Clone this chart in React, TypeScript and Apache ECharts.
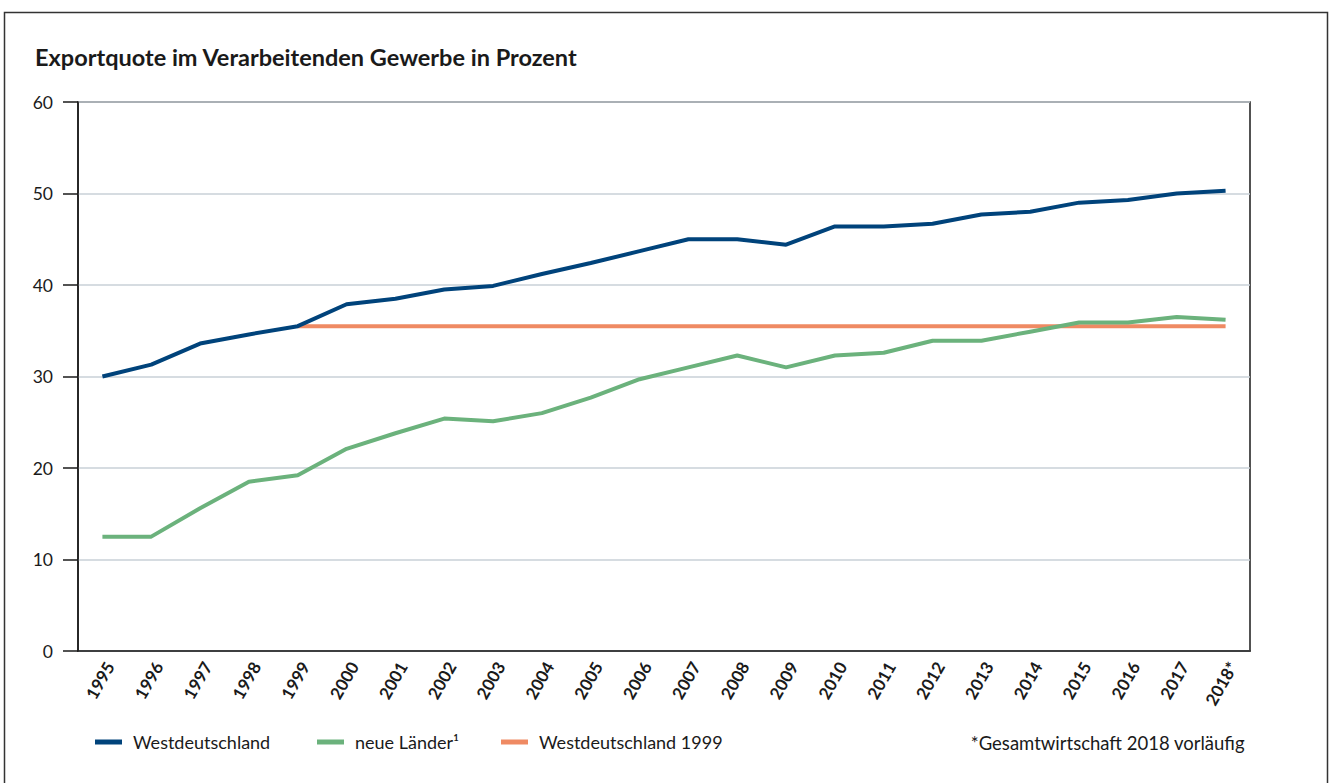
import React, { useEffect, useRef } from "react";
import * as echarts from "echarts";

const years = ["1995","1996","1997","1998","1999","2000","2001","2002","2003","2004","2005","2006","2007","2008","2009","2010","2011","2012","2013","2014","2015","2016","2017","2018*"];
const westdeutschland = [30.0,31.3,33.6,34.6,35.5,37.9,38.5,39.5,39.9,41.2,42.4,43.7,45.0,45.0,44.4,46.4,46.4,46.7,47.7,48.0,49.0,49.3,50.0,50.3];
const neueLaender = [12.5,12.5,15.6,18.5,19.2,22.1,23.8,25.4,25.1,26.0,27.7,29.7,31.0,32.3,31.0,32.3,32.6,33.9,33.9,34.9,35.9,35.9,36.5,36.2];
const west1999 = [null,null,null,null,35.5,35.5,35.5,35.5,35.5,35.5,35.5,35.5,35.5,35.5,35.5,35.5,35.5,35.5,35.5,35.5,35.5,35.5,35.5,35.5];
const yTicks = [0, 10, 20, 30, 40, 50, 60];

const TITLE = "Exportquote im Verarbeitenden Gewerbe in Prozent";
const FOOTNOTE = "*Gesamtwirtschaft 2018 vorläufig";
const NAMES = ["Westdeutschland", "neue Länder¹", "Westdeutschland 1999"];
const COLORS = ["#00437b", "#6bb27c", "#ef8a63"];
const FONT = "Lato";

export default function App() {
  const ref = useRef<HTMLDivElement>(null);
  useEffect(() => {
    if (!ref.current) return;
    const chart = echarts.init(ref.current, null, { renderer: "svg" });
    const legendBase = (name: string, left: number) => ({
      data: [name],
      left,
      top: 733,
      padding: 0,
      icon: "rect",
      itemWidth: 27,
      itemHeight: 5,
      selectedMode: false,
      textStyle: { fontFamily: FONT, fontSize: 18, color: "#1a1a1a", padding: [0, 0, 0, 6] },
    });
    chart.setOption({
      animation: false,
      backgroundColor: "#ffffff",
      textStyle: { fontFamily: FONT },
      grid: {
        left: 78,
        right: 81,
        top: 102,
        bottom: 132,
        show: true,
        borderColor: "#1a1a1a",
        borderWidth: 1.5,
        containLabel: false,
      },
      legend: [
        legendBase(NAMES[0], 95),
        legendBase(NAMES[1], 317),
        legendBase(NAMES[2], 501),
      ],
      xAxis: {
        type: "category",
        data: years,
        boundaryGap: true,
        axisLine: { show: true, lineStyle: { color: "#1a1a1a", width: 1.5 } },
        axisTick: { show: false },
        splitLine: { show: false },
        axisLabel: {
          interval: 0,
          rotate: 60,
          margin: 8,
          verticalAlign: "top",
          fontFamily: FONT,
          fontWeight: "bold",
          fontSize: 17,
          color: "#1a1a1a",
        },
      },
      yAxis: {
        type: "value",
        min: yTicks[0],
        max: yTicks[yTicks.length - 1],
        interval: 10,
        axisLine: { show: true, lineStyle: { color: "#1a1a1a", width: 1.5 } },
        axisTick: { show: true, length: 15, lineStyle: { color: "#1a1a1a", width: 1.5 } },
        splitLine: { show: true, lineStyle: { color: "#c9d1d7", width: 1.5 } },
        axisLabel: { margin: 25, fontFamily: FONT, fontSize: 17.5, color: "#1a1a1a" },
      },
      series: [
        {
          name: NAMES[2],
          type: "line",
          data: west1999,
          symbol: "none",
          lineStyle: { color: COLORS[2], width: 4 },
          itemStyle: { color: COLORS[2] },
          z: 2,
        },
        {
          name: NAMES[0],
          type: "line",
          data: westdeutschland,
          symbol: "none",
          lineStyle: { color: COLORS[0], width: 4 },
          itemStyle: { color: COLORS[0] },
          z: 3,
        },
        {
          name: NAMES[1],
          type: "line",
          data: neueLaender,
          symbol: "none",
          lineStyle: { color: COLORS[1], width: 4 },
          itemStyle: { color: COLORS[1] },
          z: 3,
        },
      ],
      graphic: [
        {
          type: "rect",
          shape: { x: 4.5, y: 12.5, width: 1323, height: 790 },
          style: { fill: "none", stroke: "#333", lineWidth: 1.5 },
          silent: true,
        },
        {
          type: "text",
          left: 35,
          top: 45,
          style: {
            text: TITLE,
            fontFamily: FONT,
            fontWeight: "bold",
            fontSize: 23.5,
            fill: "#1a1a1a",
          },
        },
        {
          type: "text",
          right: 86,
          top: 733,
          style: {
            text: FOOTNOTE,
            fontFamily: FONT,
            fontSize: 18.5,
            fill: "#1a1a1a",
          },
        },
      ],
    });
    return () => chart.dispose();
  }, []);
  return (
    <div
      ref={ref}
      style={{ position: "fixed", left: 0, top: 0, width: 1331, height: 783, background: "#fff" }}
    />
  );
}
